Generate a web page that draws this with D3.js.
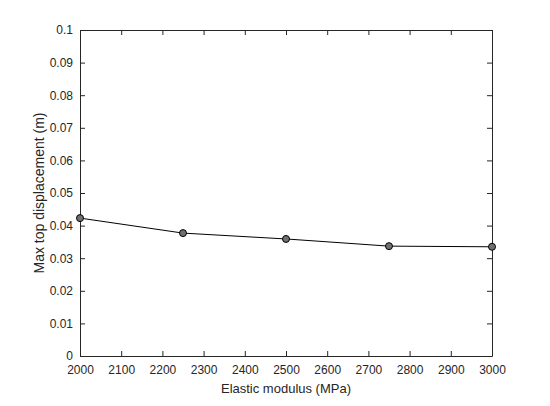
<!DOCTYPE html>
<html><head><meta charset="utf-8">
<script src="https://cdn.jsdelivr.net/npm/d3@7"></script>
<style>body{margin:0;background:#fff}svg{display:block}text{font-family:"Liberation Sans",Arial,sans-serif;fill:#262626}</style>
</head><body><svg id="c" width="550" height="406"></svg>
<script>
const modulus = [2000, 2250, 2500, 2750, 3000];
const displacement = [0.0423, 0.0377, 0.0359, 0.0337, 0.0335];
const xTicks = [2000,2100,2200,2300,2400,2500,2600,2700,2800,2900,3000];
const yTicks = [0,0.01,0.02,0.03,0.04,0.05,0.06,0.07,0.08,0.09,0.1];

const svg = d3.select("#c");
const L=80, R=492, T=30, B=356;
const x = d3.scaleLinear().domain([2000,3000]).range([L,R]);
const y = d3.scaleLinear().domain([0,0.1]).range([B,T]);
const ac = "#262626";
const fmt = d => d===0.1?"0.1":(d===0?"0":d3.format(".2f")(d));

function style(g){ g.selectAll("path").attr("stroke",ac).attr("stroke-width",1); g.selectAll("line").attr("stroke",ac); g.selectAll("text").attr("fill",ac).style("font-size","12px"); }

svg.append("g").attr("transform",`translate(0,${B})`)
  .call(d3.axisBottom(x).tickValues(xTicks).tickSizeInner(-5).tickSizeOuter(0).tickPadding(9.5).tickFormat(d3.format("d"))).call(style);
svg.append("g").attr("transform",`translate(0,${T})`)
  .call(d3.axisTop(x).tickValues(xTicks).tickSizeInner(-5).tickSizeOuter(0).tickFormat("")).call(style);
svg.append("g").attr("transform",`translate(${L},0)`)
  .call(d3.axisLeft(y).tickValues(yTicks).tickSizeInner(-5).tickSizeOuter(0).tickPadding(7).tickFormat(fmt)).call(style);
svg.append("g").attr("transform",`translate(${R},0)`)
  .call(d3.axisRight(y).tickValues(yTicks).tickSizeInner(-5).tickSizeOuter(0).tickFormat("")).call(style);

const pts = modulus.map((m,i)=>[m,displacement[i]]);
svg.append("path").datum(pts).attr("fill","none").attr("stroke","#000").attr("stroke-width",1)
  .attr("d", d3.line().x(d=>x(d[0])).y(d=>y(d[1])));
svg.selectAll("circle.p").data(pts).join("circle").attr("class","p")
  .attr("cx",d=>x(d[0])).attr("cy",d=>y(d[1])).attr("r",3.5)
  .attr("fill","#707070").attr("stroke","#000").attr("stroke-width",1);

svg.append("text").attr("x",(L+R)/2).attr("y",393).attr("text-anchor","middle").style("font-size","13px").text("Elastic modulus (MPa)");
svg.append("text").attr("transform",`translate(44,${(T+B)/2}) rotate(-90)`).attr("text-anchor","middle").style("font-size","14px").text("Max top displacement (m)");
</script></body></html>
